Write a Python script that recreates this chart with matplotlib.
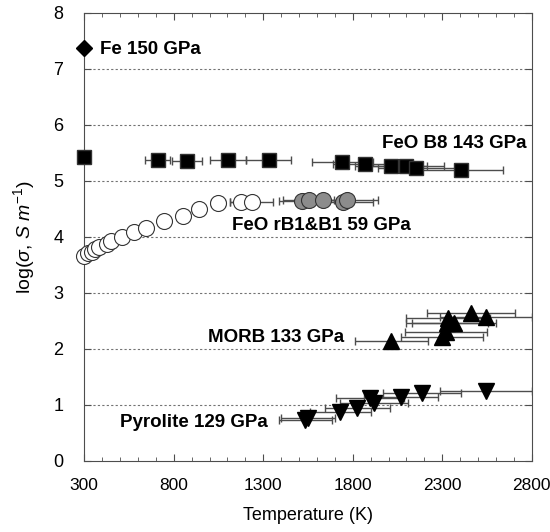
import numpy as np
import matplotlib.pyplot as plt
from matplotlib.ticker import MultipleLocator

plt.rcParams['font.family'] = ['Liberation Sans', 'DejaVu Sans']
plt.rcParams['mathtext.fontset'] = 'custom'
plt.rcParams['mathtext.it'] = 'Liberation Sans:italic'
plt.rcParams['mathtext.rm'] = 'Liberation Sans'

# data
fe_T = [300]
fe_s = [7.37]

b8_T = [300, 710, 873, 1102, 1330, 1742, 1870, 2015, 2098, 2154, 2405]
b8_s = [5.42, 5.38, 5.36, 5.37, 5.38, 5.34, 5.30, 5.27, 5.27, 5.23, 5.20]
b8_err = [0, 70, 85, 100, 125, 170, 180, 200, 210, 215, 235]

rb1_T = [300, 322, 345, 361, 384, 428, 450, 512, 578, 645, 745, 851, 940, 1046, 1174, 1235]
rb1_s = [3.66, 3.71, 3.73, 3.78, 3.82, 3.87, 3.93, 4.00, 4.09, 4.16, 4.29, 4.38, 4.50, 4.60, 4.63, 4.63]
rb1_err = [0, 0, 0, 0, 0, 0, 0, 10, 15, 20, 25, 30, 35, 40, 60, 120]

b1_T = [1519, 1553, 1636, 1748, 1770]
b1_s = [4.64, 4.66, 4.66, 4.63, 4.66]
b1_err = [130, 140, 150, 165, 170]

morb_T = [2015, 2299, 2321, 2327, 2332, 2366, 2460, 2544]
morb_s = [2.15, 2.21, 2.30, 2.46, 2.55, 2.46, 2.64, 2.57]
morb_err = [205, 230, 230, 230, 235, 235, 245, 256]

pyr_T = [1536, 1550, 1731, 1826, 1898, 1920, 2070, 2187, 2544]
pyr_s = [0.73, 0.76, 0.875, 0.95, 1.12, 1.04, 1.14, 1.21, 1.25]
pyr_err = [150, 150, 170, 180, 190, 190, 205, 220, 255]

fig = plt.figure(figsize=(5.5, 5.32), dpi=100)
ax = fig.add_axes([0.153, 0.1335, 0.814, 0.8425])

for y in range(1, 8):
    ax.axhline(y, color='0.45', ls=(0, (2, 2)), lw=0.8, zorder=0)

ebkw = dict(fmt='none', ecolor='0.3', elinewidth=1, capsize=3, capthick=1, zorder=2)
ax.errorbar(b8_T, b8_s, xerr=b8_err, **ebkw)
ax.errorbar(rb1_T, rb1_s, xerr=rb1_err, **ebkw)
ax.errorbar(b1_T, b1_s, xerr=b1_err, **ebkw)
ax.errorbar(morb_T, morb_s, xerr=morb_err, **ebkw)
ax.errorbar(pyr_T, pyr_s, xerr=pyr_err, **ebkw)

mk = dict(ls='none', clip_on=False, zorder=3)
ax.plot(fe_T, fe_s, marker='D', ms=8, color='black', **mk)
ax.plot(b8_T, b8_s, marker='s', ms=10, mfc='black', mec='0.2', **mk)
ax.plot(rb1_T, rb1_s, marker='o', ms=11.5, mfc='white', mec='0.2', mew=0.8, **mk)
ax.plot(b1_T, b1_s, marker='o', ms=11.5, mfc='0.55', mec='0.2', mew=0.8, **mk)
ax.plot(morb_T, morb_s, marker='^', ms=11, mfc='black', mec='black', **mk)
ax.plot(pyr_T, pyr_s, marker='v', ms=11, mfc='black', mec='black', **mk)

tkw = dict(fontsize=13.5, fontweight='bold', va='center')
ax.text(390, 7.35, 'Fe 150 GPa', **tkw)
ax.text(2770, 5.66, 'FeO B8 143 GPa', ha='right', **tkw)
ax.text(1125, 4.2, 'FeO rB1&B1 59 GPa', **tkw)
ax.text(990, 2.2, 'MORB 133 GPa', **tkw)
ax.text(500, 0.68, 'Pyrolite 129 GPa', **tkw)

ax.set_xlim(300, 2800)
ax.set_ylim(0, 8)
ax.set_xticks(np.arange(300, 2801, 500))
ax.xaxis.set_minor_locator(MultipleLocator(100))
ax.set_yticks(range(0, 9))
ax.tick_params(which='both', direction='in', top=True, right=True, labelsize=13, color='0.3')
ax.tick_params(which='major', length=5)
ax.tick_params(which='minor', length=3)
ax.tick_params(axis='x', which='major', pad=12, labelsize=12.5)
ax.tick_params(axis='y', which='major', pad=15)
for s in ax.spines.values():
    s.set_color('0.3')

ax.set_xlabel('Temperature (K)', fontsize=13, labelpad=10)
ax.set_ylabel(r'log($\sigma$, $S\ m^{-1}$)', fontsize=14, labelpad=12)

fig.savefig('out.png', dpi=100)
